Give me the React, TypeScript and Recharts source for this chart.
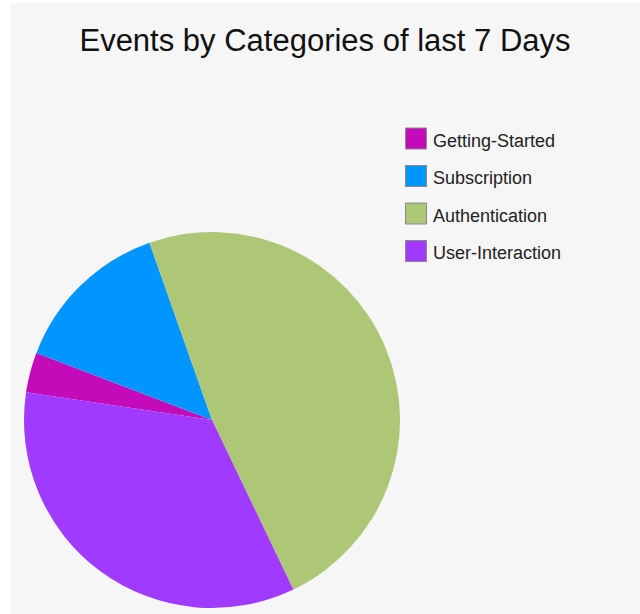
import React from 'react';
import { PieChart, Pie, Cell } from 'recharts';

const CATEGORIAS = ['Getting-Started', 'Subscription', 'Authentication', 'User-Interaction'];
const EVENTOS = [1, 4, 14, 10];
const CORES = [
  '#c40bba', // magenta
  '#0095ff', // azul
  '#adc776', // verde
  '#a03aff', // roxo
];

const TITULO = 'Events by Categories of last 7 Days';

const dados = CATEGORIAS.map((nome, i) => ({ name: nome, value: EVENTOS[i], color: CORES[i] }));

const FONTE = 'Arial, "Liberation Sans", sans-serif';

// titulo e legenda desenhados por cima do grafico
function Sobreposicao() {
  return (
    <svg width={640} height={614} style={{ position: 'absolute', left: 0, top: 0, fontFamily: FONTE }}>
      <text x={325} y={51} textAnchor="middle" fontSize={31} fill="#111">
        {TITULO}
      </text>
      {dados.map((item, i) => (
        <g key={item.name} transform={`translate(405, ${127.5 + i * 37.5})`}>
          <rect x={0.5} y={0.5} width={21} height={21} fill={item.color} stroke="#8a8a8a" strokeWidth={1} />
          <text x={28} y={19} fontSize={18} fill="#222">
            {item.name}
          </text>
        </g>
      ))}
    </svg>
  );
}

export default function App() {
  return (
    <div style={{ position: 'absolute', left: 0, top: 0, width: 640, height: 614, background: '#fff', overflow: 'hidden' }}>
      <div style={{ position: 'absolute', left: 10, top: 3, width: 630, height: 611, background: '#f6f6f6' }} />
      <div style={{ position: 'absolute', left: 0, top: 0 }}>
        <PieChart width={640} height={614} margin={{ top: 0, right: 0, bottom: 0, left: 0 }}>
          <Pie
            data={dados}
            dataKey="value"
            nameKey="name"
            cx={212}
            cy={420}
            outerRadius={188}
            startAngle={171.5}
            endAngle={-188.5}
            stroke="none"
            isAnimationActive={false}
          >
            {dados.map((entry, index) => (
              <Cell key={`cell-${index}`} fill={entry.color} />
            ))}
          </Pie>
        </PieChart>
      </div>
      <Sobreposicao />
    </div>
  );
}
